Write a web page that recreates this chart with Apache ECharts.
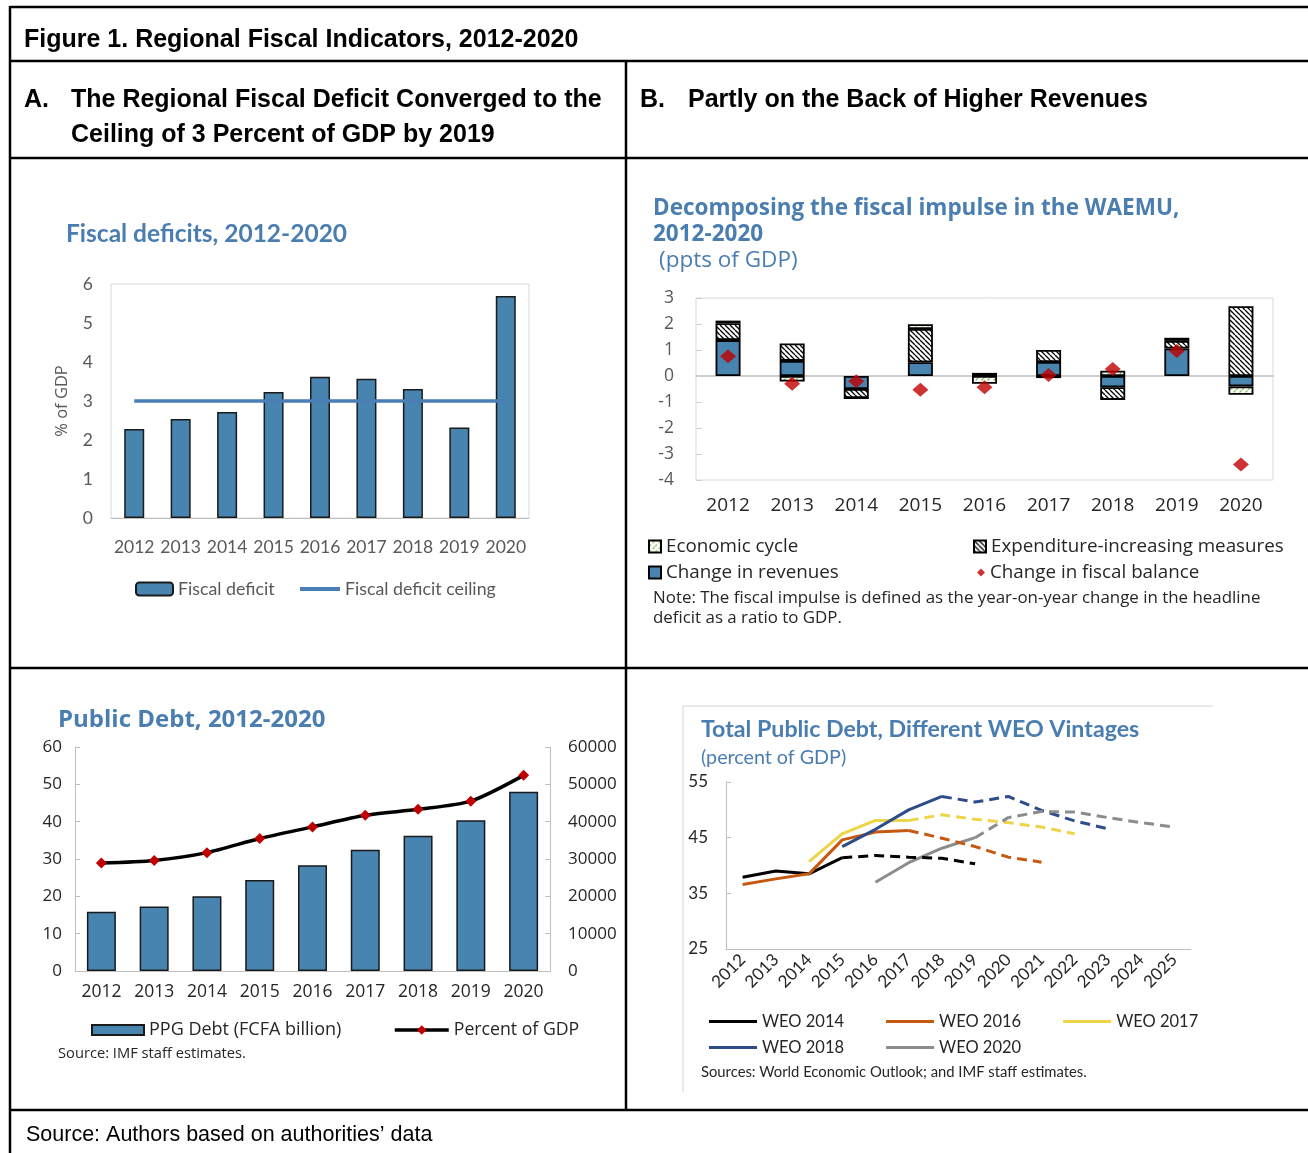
<!DOCTYPE html>
<html>
<head>
<meta charset="utf-8">
<script src="https://cdn.jsdelivr.net/npm/echarts@6/dist/echarts.min.js"></script>
<style>
body { margin: 0; background: #fff; }
#main { width: 1308px; height: 1153px; }
</style>
</head>
<body>
<div id="main"></div>
<script>
// panel A - fiscal deficits
var years = ['2012', '2013', '2014', '2015', '2016', '2017', '2018', '2019', '2020'];
var deficit = [2.28, 2.54, 2.72, 3.23, 3.62, 3.57, 3.31, 2.32, 5.69];
var ceiling = [3, 3, 3, 3, 3, 3, 3, 3, 3];

// panel B - fiscal impulse decomposition
var revenues = [1.38, 0.58, -0.5, 0.53, 0, 0.54, -0.43, 1.06, -0.4];
var expenditure = [0.65, 0.67, -0.35, 1.28, 0.12, 0.46, -0.49, 0.29, 2.68];
var cycle = [0.1, -0.21, 0, 0.18, -0.3, -0.08, 0.2, 0.12, -0.32];
var balance = [0.76, -0.3, -0.2, -0.53, -0.43, 0.04, 0.27, 0.96, -3.4];

// panel C - public debt
var ppgDebt = [15850, 17300, 20050, 24400, 28300, 32500, 36250, 40400, 48000];
var debtPct = [28.9, 29.6, 31.7, 35.5, 38.6, 41.7, 43.3, 45.5, 52.4];

// panel D - WEO vintages
var weoYears = ['2012', '2013', '2014', '2015', '2016', '2017', '2018', '2019', '2020', '2021', '2022', '2023', '2024', '2025'];
var weo2014 = [37.9, 39.0, 38.5, 41.4, 41.8, 41.5, 41.3, 40.3, null, null, null, null, null, null];
var weo2016 = [36.6, 37.6, 38.5, 44.6, 46.0, 46.3, 44.9, 43.4, 41.5, 40.6, null, null, null, null];
var weo2017 = [null, null, 40.7, 45.7, 48.1, 48.1, 49.1, 48.3, 47.7, 46.9, 45.7, null, null, null];
var weo2018 = [null, null, null, 43.4, 46.5, 50.0, 52.4, 51.4, 52.4, 49.9, 48.0, 46.6, null, null];
var weo2020 = [null, null, null, null, 37.0, 40.5, 43.1, 45.0, 48.6, 49.7, 49.6, 48.6, 47.7, 46.9];
// last actual (solid) year index of each vintage, projections dashed after
var weoNames = ['WEO 2014', 'WEO 2016', 'WEO 2017', 'WEO 2018', 'WEO 2020'];
var weoData = [weo2014, weo2016, weo2017, weo2018, weo2020];
var weoLastActual = [3, 5, 5, 6, 7];
var weoColors = ['#000000', '#C65911', '#EDD54A', '#2E4C8A', '#8C8C8C'];

var blue = '#4884B0';
var titleBlue = '#4A7DB0';

// hatch patterns
function hatch(color, step, dir, lw, dash) {
    var c = document.createElement('canvas');
    c.width = step; c.height = step;
    var g = c.getContext('2d');
    g.fillStyle = '#fff';
    g.fillRect(0, 0, step, step);
    g.strokeStyle = color;
    g.lineWidth = lw;
    if (dash) g.setLineDash(dash);
    g.beginPath();
    for (var k = -1; k <= 1; k++) {
        if (dir == '\\') {
            g.moveTo(k * step, 0); g.lineTo(k * step + step, step);
        } else {
            g.moveTo(k * step, step); g.lineTo(k * step + step, 0);
        }
    }
    g.stroke();
    return { image: c, repeat: 'repeat' };
}
var expPattern = hatch('#000', 5, '\\', 1.3);
var cyclePattern = hatch('#7DBB4A', 6, '/', 1.2, [3, 2]);

function txt(x, y, text, font, fill) {
    return {
        type: 'text', x: x, y: y, silent: true,
        style: { text: text, font: font, fill: fill || '#000', verticalAlign: 'middle', align: 'left' }
    };
}
function hline(x1, x2, y, color, w) {
    return { type: 'line', silent: true, shape: { x1: x1, y1: y, x2: x2, y2: y }, style: { stroke: color || '#000', lineWidth: w || 2.5 } };
}
function vline(x, y1, y2, color, w) {
    return { type: 'line', silent: true, shape: { x1: x, y1: y1, x2: x, y2: y2 }, style: { stroke: color || '#000', lineWidth: w || 2.5 } };
}

var head = 'bold 25px "Liberation Sans"';
var graphics = [
    hline(10, 1308, 7), hline(10, 1308, 61), hline(10, 1308, 158),
    hline(10, 1308, 668), hline(10, 1308, 1110),
    vline(10, 6, 1153), vline(626, 61, 1110),
    // panel D chart area frame
    hline(683, 1213, 706, '#d4d4d4', 1), vline(683, 706, 1092, '#d4d4d4', 1),
    txt(24, 40, 'Figure 1. Regional Fiscal Indicators, 2012-2020', head),
    txt(24, 100, 'A.', head),
    txt(71, 100, 'The Regional Fiscal Deficit Converged to the', head),
    txt(71, 135, 'Ceiling of 3 Percent of GDP by 2019', head),
    txt(640, 100, 'B.', head),
    txt(688, 100, 'Partly on the Back of Higher Revenues', head),
    txt(26, 1135, 'Source: Authors based on authorities\u2019 data', '21.5px "Liberation Sans"'),
    // chart titles
    txt(66, 234, 'Fiscal deficits, 2012-2020', 'bold 24.5px Lato', titleBlue),
    txt(653, 209, 'Decomposing the fiscal impulse in the WAEMU,', 'bold 22.5px "Open Sans"', titleBlue),
    txt(653, 235, '2012-2020', 'bold 22.5px "Open Sans"', titleBlue),
    txt(659, 261, '(ppts of GDP)', '22.5px "Open Sans"', titleBlue),
    txt(653, 598, 'Note: The fiscal impulse is defined as the year-on-year change in the headline', '16.9px "Open Sans"', '#262626'),
    txt(653, 618, 'deficit as a ratio to GDP.', '16.9px "Open Sans"', '#262626'),
    txt(58, 720, 'Public Debt, 2012-2020', 'bold 24px "Open Sans"', titleBlue),
    txt(58, 1054, 'Source: IMF staff estimates.', '14.7px "Open Sans"', '#262626'),
    txt(701, 730, 'Total Public Debt, Different WEO Vintages', 'bold 23.2px Lato', titleBlue),
    txt(701, 758, '(percent of GDP)', '19.7px Lato', titleBlue),
    txt(701, 1072, 'Sources: World Economic Outlook; and IMF staff estimates.', '14.8px Lato', '#262626')
];

function legend(name, left, top, w, h, font, size, color, icon) {
    var l = {
        data: [name], left: left, top: top, padding: 0, itemGap: 0,
        itemWidth: w, itemHeight: h, selectedMode: false,
        textStyle: { fontFamily: font, fontSize: size, color: color || '#262626' }
    };
    if (icon) l.icon = icon;
    return l;
}

var series = [
    {
        name: 'Fiscal deficit', type: 'bar', xAxisIndex: 0, yAxisIndex: 0, data: deficit, barWidth: 20,
        itemStyle: { color: blue, borderColor: '#1a1a1a', borderWidth: 1.5 }
    },
    {
        name: 'Fiscal deficit ceiling', type: 'line', xAxisIndex: 0, yAxisIndex: 0, data: ceiling,
        symbol: 'none', color: '#4A7EB5', lineStyle: { width: 3.5 }
    },
    {
        name: 'Change in revenues', type: 'bar', stack: 'fi', xAxisIndex: 1, yAxisIndex: 1, data: revenues, barWidth: 25,
        itemStyle: { color: blue, borderColor: '#000', borderWidth: 1.8 }
    },
    {
        name: 'Expenditure-increasing measures', type: 'bar', stack: 'fi', xAxisIndex: 1, yAxisIndex: 1, data: expenditure, barWidth: 25,
        itemStyle: { color: expPattern, borderColor: '#000', borderWidth: 1.8 }
    },
    {
        name: 'Economic cycle', type: 'bar', stack: 'fi', xAxisIndex: 1, yAxisIndex: 1, data: cycle, barWidth: 25,
        itemStyle: { color: cyclePattern, borderColor: '#000', borderWidth: 1.8 }
    },
    {
        name: 'Change in fiscal balance', type: 'scatter', xAxisIndex: 1, yAxisIndex: 1, data: balance,
        symbol: 'diamond', symbolSize: [16, 14], itemStyle: { color: '#C00000' }
    },
    {
        name: 'PPG Debt (FCFA billion)', type: 'bar', xAxisIndex: 3, yAxisIndex: 3, data: ppgDebt, barWidth: 29,
        itemStyle: { color: blue, borderColor: '#1a1a1a', borderWidth: 1.5 }
    },
    {
        name: 'Percent of GDP', type: 'line', xAxisIndex: 3, yAxisIndex: 2, data: debtPct, smooth: 0.25,
        symbol: 'diamond', symbolSize: 11, itemStyle: { color: '#C00000' },
        lineStyle: { color: '#000', width: 3.5 }
    }
];

// solid actuals first so the legend picks them up, then dashed projections
weoNames.forEach(function (n, j) {
    var k = weoLastActual[j];
    series.push({
        name: n, type: 'line', xAxisIndex: 4, yAxisIndex: 4, symbol: 'none', color: weoColors[j],
        lineStyle: { width: 3 },
        data: weoData[j].map(function (v, i) { return i <= k ? v : null; })
    });
});
weoNames.forEach(function (n, j) {
    var k = weoLastActual[j];
    series.push({
        name: n, type: 'line', xAxisIndex: 4, yAxisIndex: 4, symbol: 'none', color: weoColors[j],
        lineStyle: { width: 3, type: [10, 6] },
        data: weoData[j].map(function (v, i) { return i >= k ? v : null; })
    });
});

var gray = '#bfbfbf';

var option = {
    animation: false,
    backgroundColor: '#fff',
    graphic: graphics,
    grid: [
        { left: 111, top: 284, width: 418, height: 234, show: true, borderColor: '#d9d9d9', borderWidth: 1 },
        { left: 696, top: 298, width: 577, height: 182, show: true, borderColor: '#d9d9d9', borderWidth: 1 },
        { left: 75, top: 747, width: 475, height: 224 },
        { left: 726, top: 782, width: 465, height: 167 }
    ],
    xAxis: [
        {
            type: 'category', gridIndex: 0, data: years,
            axisLine: { lineStyle: { color: gray } },
            axisTick: { inside: true, length: 5, lineStyle: { color: gray } },
            axisLabel: { color: '#595959', fontSize: 17.5, fontFamily: 'Lato', margin: 20, interval: 0 }
        },
        {
            type: 'category', gridIndex: 1, data: years, position: 'bottom',
            axisLine: { show: false, onZero: false },
            axisTick: { show: false },
            axisLabel: { color: '#262626', fontSize: 19, fontFamily: 'Open Sans', margin: 16, interval: 0 }
        },
        {
            type: 'category', gridIndex: 1, data: years, position: 'bottom',
            axisLine: { onZero: true, lineStyle: { color: gray, width: 1.5 } },
            axisTick: { inside: true, length: 6, lineStyle: { color: gray } },
            axisLabel: { show: false }
        },
        {
            type: 'category', gridIndex: 2, data: years,
            axisLine: { lineStyle: { color: gray } },
            axisTick: { inside: true, length: 5, lineStyle: { color: gray } },
            axisLabel: { color: '#262626', fontSize: 17.5, fontFamily: 'Open Sans', margin: 12, interval: 0 }
        },
        {
            type: 'category', gridIndex: 3, data: weoYears,
            axisLine: { lineStyle: { color: gray } },
            axisTick: { inside: true, length: 6, lineStyle: { color: gray } },
            axisLabel: { color: '#262626', fontSize: 17, fontFamily: 'Lato', margin: 8, rotate: 45, interval: 0 }
        }
    ],
    yAxis: [
        {
            type: 'value', gridIndex: 0, min: 0, max: 6, interval: 1,
            axisLine: { show: false }, axisTick: { show: false }, splitLine: { show: false },
            axisLabel: { color: '#595959', fontSize: 17.5, fontFamily: 'Lato', margin: 18 },
            name: '% of GDP', nameLocation: 'middle', nameGap: 40, nameRotate: 90,
            nameTextStyle: { color: '#595959', fontSize: 16.5, fontFamily: 'Open Sans' }
        },
        {
            type: 'value', gridIndex: 1, min: -4, max: 3, interval: 1,
            axisLine: { show: false },
            axisTick: { show: true, inside: true, length: 6, lineStyle: { color: '#d0d0d0' } },
            splitLine: { show: false },
            axisLabel: { color: '#595959', fontSize: 17.5, fontFamily: 'Open Sans', margin: 22 }
        },
        {
            type: 'value', gridIndex: 2, min: 0, max: 60, interval: 10, position: 'left',
            axisLine: { show: true, lineStyle: { color: gray } },
            axisTick: { show: true, inside: true, length: 5, lineStyle: { color: gray } },
            splitLine: { show: false },
            axisLabel: { color: '#262626', fontSize: 17, fontFamily: 'Open Sans', margin: 13 }
        },
        {
            type: 'value', gridIndex: 2, min: 0, max: 60000, interval: 10000, position: 'right',
            axisLine: { show: true, lineStyle: { color: gray } },
            axisTick: { show: true, inside: true, length: 5, lineStyle: { color: gray } },
            splitLine: { show: false },
            axisLabel: {
                color: '#262626', fontSize: 17, fontFamily: 'Open Sans', margin: 18,
                formatter: function (v) { return String(v); }
            }
        },
        {
            type: 'value', gridIndex: 3, min: 25, max: 55, interval: 10,
            axisLine: { show: true, lineStyle: { color: gray } },
            axisTick: { show: true, inside: true, length: 5, lineStyle: { color: gray } },
            splitLine: { show: false },
            axisLabel: { color: '#262626', fontSize: 17, fontFamily: 'Lato', margin: 18 }
        }
    ],
    legend: [
        legend('Fiscal deficit', 135, 580, 37, 13, 'Lato', 17.8, '#595959'),
        legend('Fiscal deficit ceiling', 300, 580, 40, 4, 'Lato', 17.8, '#595959', 'rect'),
        legend('Economic cycle', 648, 537, 12, 12, 'Open Sans', 18.8, '#262626', 'rect'),
        legend('Expenditure-increasing measures', 973, 537, 12, 12, 'Open Sans', 18.8, '#262626', 'rect'),
        legend('Change in revenues', 648, 563, 12, 12, 'Open Sans', 18.8, '#262626', 'rect'),
        legend('Change in fiscal balance', 977, 563, 8, 8, 'Open Sans', 18.8, '#262626', 'diamond'),
        legend('PPG Debt (FCFA billion)', 91, 1021, 52, 10, 'Open Sans', 18, '#262626', 'rect'),
        {
            data: ['Percent of GDP'], left: 393, top: 1021, padding: 0, itemGap: 0,
            itemWidth: 54, itemHeight: 12, selectedMode: false,
            lineStyle: { width: 3.5, color: '#000' },
            textStyle: { fontFamily: 'Open Sans', fontSize: 17.7, color: '#262626' }
        },
        {
            data: ['WEO 2014', 'WEO 2016', 'WEO 2017'], left: 709, top: 1013, padding: 0, itemGap: 42,
            itemWidth: 48, itemHeight: 3, icon: 'rect', selectedMode: false,
            textStyle: { fontFamily: 'Lato', fontSize: 16.5, color: '#262626' }
        },
        {
            data: ['WEO 2018', 'WEO 2020'], left: 709, top: 1039, padding: 0, itemGap: 42,
            itemWidth: 48, itemHeight: 3, icon: 'rect', selectedMode: false,
            textStyle: { fontFamily: 'Lato', fontSize: 16.5, color: '#262626' }
        }
    ],
    series: series
};

var chart = echarts.init(document.getElementById('main'));
chart.setOption(option);
</script>
</body>
</html>
